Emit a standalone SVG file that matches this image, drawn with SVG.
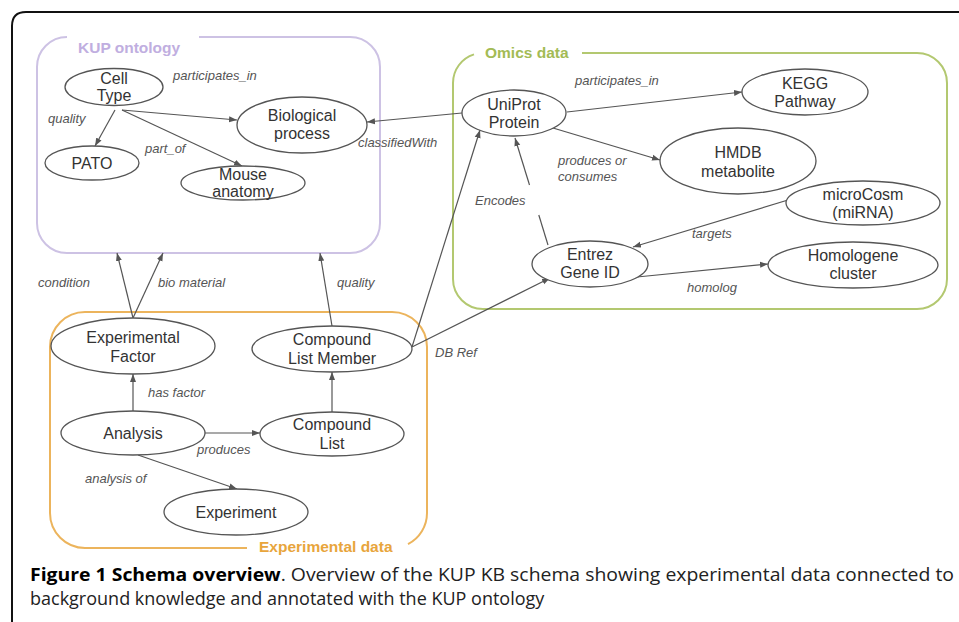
<svg xmlns="http://www.w3.org/2000/svg" width="959" height="622" viewBox="0 0 959 622">
<style>
.node ellipse{fill:#fff;stroke:#555;stroke-width:1.3}
.node text{font-family:"Liberation Sans",Arial,sans-serif;font-size:16px;fill:#333;text-anchor:middle}
.edge{stroke:#555;stroke-width:1.2;fill:none}
.arr{marker-end:url(#ah)}
.lbl{font-family:"Liberation Sans",Arial,sans-serif;font-size:13px;font-style:italic;fill:#555}
.title{font-family:"Liberation Sans",Arial,sans-serif;font-weight:bold;font-size:15.5px}
.cap{font-family:"Open Sans","Liberation Sans",sans-serif;font-size:18px;fill:#222}
</style>
<defs>
<marker id="ah" markerUnits="userSpaceOnUse" markerWidth="9" markerHeight="7" refX="8" refY="3.5" orient="auto">
<path d="M0,0.5 L8,3.5 L0,6.5 z" fill="#555"/>
</marker>
</defs>
<rect width="959" height="622" fill="#fff"/>
<path d="M12,622 V26 Q12,12 26,12 H959" fill="none" stroke="#111" stroke-width="2"/>

<g id="groups">
<path d="M199,37 H350 A30,30 0 0 1 380,67 V223 A30,30 0 0 1 350,253 H67 A30,30 0 0 1 37,223 V67 A30,30 0 0 1 67,37" fill="none" stroke="#cdc2e4" stroke-width="2"/>
<text class="title" x="78" y="53" fill="#c0aee0">KUP ontology</text>
<path d="M582,53 H917 A30,30 0 0 1 947,83 V279 A30,30 0 0 1 917,309 H483 A30,30 0 0 1 453,279 V83 A30,30 0 0 1 474,54.4" fill="none" stroke="#b3c870" stroke-width="2"/>
<text class="title" x="485" y="58" fill="#a3bb55">Omics data</text>
<path d="M408,544.1 A35,35 0 0 0 427,513 V347 A35,35 0 0 0 392,312 H85 A35,35 0 0 0 50,347 V513 A35,35 0 0 0 85,548 H247" fill="none" stroke="#ecb45c" stroke-width="2"/>
<text class="title" x="259" y="552" fill="#e8a53c">Experimental data</text>
</g>

<g id="connectors">
<path class="edge arr" d="M122,110 L237,120"/>
<path class="edge arr" d="M115,110 L95,146"/>
<path class="edge arr" d="M122,110 L242,166"/>
<path class="edge arr" d="M462,113 L367,122"/>
<path class="edge arr" d="M567,112 L742,92"/>
<path class="edge arr" d="M553,128 L660,160"/>
<path class="edge" d="M548,245 L538.8,215"/>
<path class="edge arr" d="M529.5,185 L515,138"/>
<path class="edge arr" d="M788,200 L633,247"/>
<path class="edge arr" d="M637,277 L768,264"/>
<path class="edge arr" d="M412,347 L480,130"/>
<path class="edge arr" d="M412,347 L550,278"/>
<path class="edge arr" d="M332,326 L320,253"/>
<path class="edge arr" d="M133,318 L117,253"/>
<path class="edge arr" d="M133,318 L163,253"/>
<path class="edge arr" d="M133,411 L133,374"/>
<path class="edge arr" d="M332,412 L332,372"/>
<path class="edge arr" d="M205,433 L260,433"/>
<path class="edge arr" d="M138,455 L237,489"/>
<g id="edge-labels">
<text class="lbl" x="173" y="80">participates_in</text>
<text class="lbl" x="48" y="123">quality</text>
<text class="lbl" x="145" y="153">part_of</text>
<text class="lbl" x="358" y="147">classifiedWith</text>
<text class="lbl" x="575" y="85">participates_in</text>
<text class="lbl" x="558" y="165">produces or</text>
<text class="lbl" x="558" y="181">consumes</text>
<text class="lbl" x="475" y="205">Encodes</text>
<text class="lbl" x="692" y="238">targets</text>
<text class="lbl" x="687" y="292">homolog</text>
<text class="lbl" x="38" y="287">condition</text>
<text class="lbl" x="158" y="287">bio material</text>
<text class="lbl" x="337" y="287">quality</text>
<text class="lbl" x="435" y="357">DB Ref</text>
<text class="lbl" x="148" y="397">has factor</text>
<text class="lbl" x="197" y="454">produces</text>
<text class="lbl" x="85" y="483">analysis of</text>
</g>
</g>

<g id="cell-type" class="node"><ellipse cx="114" cy="87" rx="49" ry="18.5"/><text x="114" y="84">Cell</text><text x="114" y="101">Type</text></g>
<g id="pato" class="node"><ellipse cx="92" cy="163" rx="47" ry="17"/><text x="92" y="169">PATO</text></g>
<g id="biological-process" class="node"><ellipse cx="302" cy="125" rx="65" ry="28"/><text x="302" y="121">Biological</text><text x="302" y="139">process</text></g>
<g id="mouse-anatomy" class="node"><ellipse cx="243" cy="183" rx="62" ry="17"/><text x="243" y="180">Mouse</text><text x="243" y="197">anatomy</text></g>

<g id="uniprot-protein" class="node"><ellipse cx="514" cy="113" rx="52" ry="23"/><text x="514" y="110">UniProt</text><text x="514" y="128">Protein</text></g>
<g id="kegg-pathway" class="node"><ellipse cx="805" cy="92" rx="63" ry="23"/><text x="805" y="89">KEGG</text><text x="805" y="107">Pathway</text></g>
<g id="hmdb-metabolite" class="node"><ellipse cx="738" cy="161" rx="78" ry="33"/><text x="738" y="158">HMDB</text><text x="738" y="177">metabolite</text></g>
<g id="microcosm" class="node"><ellipse cx="863" cy="203" rx="77" ry="22"/><text x="863" y="200">microCosm</text><text x="863" y="218">(miRNA)</text></g>
<g id="entrez-gene" class="node"><ellipse cx="590" cy="264" rx="58" ry="23"/><text x="590" y="260">Entrez</text><text x="590" y="278">Gene ID</text></g>
<g id="homologene" class="node"><ellipse cx="853" cy="265" rx="85" ry="23"/><text x="853" y="261">Homologene</text><text x="853" y="279">cluster</text></g>

<g id="experimental-factor" class="node"><ellipse cx="133" cy="346" rx="82" ry="28"/><text x="133" y="343">Experimental</text><text x="133" y="362">Factor</text></g>
<g id="compound-list-member" class="node"><ellipse cx="332" cy="349" rx="80" ry="23"/><text x="332" y="345">Compound</text><text x="332" y="364">List Member</text></g>
<g id="analysis" class="node"><ellipse cx="133" cy="433" rx="72" ry="22"/><text x="133" y="439">Analysis</text></g>
<g id="compound-list" class="node"><ellipse cx="332" cy="434" rx="72" ry="22"/><text x="332" y="430">Compound</text><text x="332" y="449">List</text></g>
<g id="experiment" class="node"><ellipse cx="236" cy="512" rx="72" ry="23"/><text x="236" y="518">Experiment</text></g>

<g id="caption">
<text class="cap" x="30" y="581" textLength="924" lengthAdjust="spacingAndGlyphs"><tspan font-weight="bold" fill="#000">Figure 1 Schema overview</tspan>. Overview of the KUP KB schema showing experimental data connected to</text>
<text class="cap" x="30" y="605">background knowledge and annotated with the KUP ontology</text>
</g>
</svg>
